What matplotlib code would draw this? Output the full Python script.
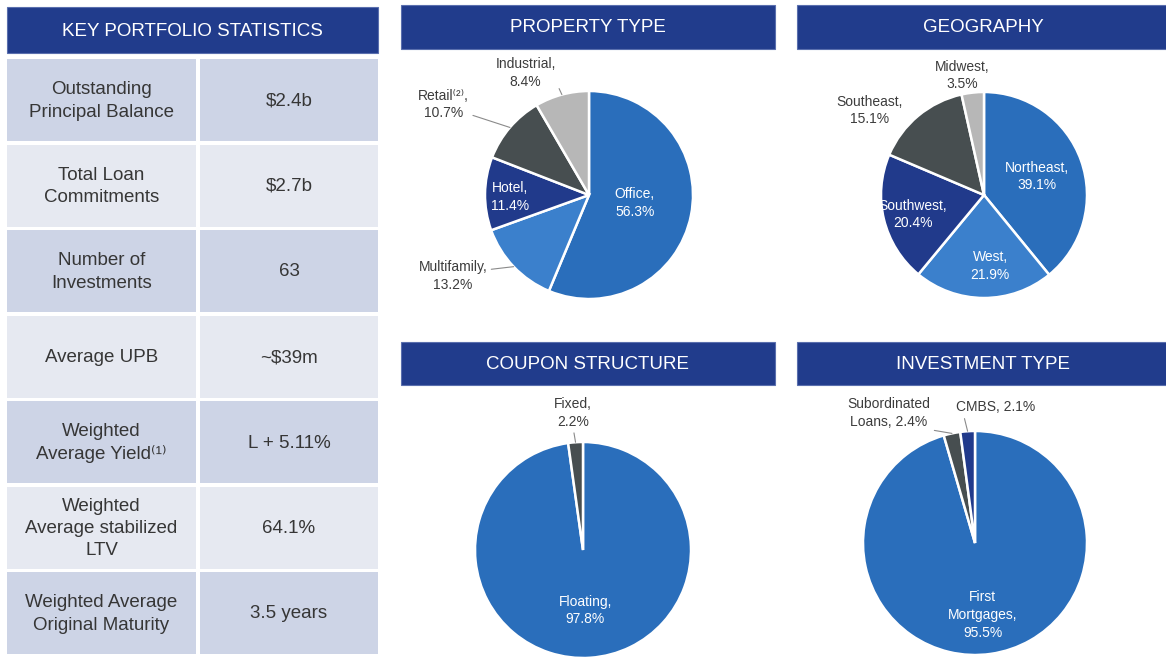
import numpy as np
import matplotlib
matplotlib.use("Agg")
from matplotlib import pyplot as plt
from matplotlib.patches import Rectangle

plt.rcParams['font.family'] = ['Liberation Sans', 'DejaVu Sans']

# key portfolio statistics table
table_title = "KEY PORTFOLIO STATISTICS"
stat_names = ["Outstanding\nPrincipal Balance", "Total Loan\nCommitments", "Number of\nInvestments",
              "Average UPB", "Weighted\nAverage Yield\u207d\u00b9\u207e",
              "Weighted\nAverage stabilized\nLTV", "Weighted Average\nOriginal Maturity"]
stat_values = ["$2.4b", "$2.7b", "63", "~$39m", "L + 5.11%", "64.1%", "3.5 years"]

# pie data (clockwise from 12 o'clock)
prop_title = "PROPERTY TYPE"
prop_names = ["Office", "Multifamily", "Hotel", "Retail\u207d\u00b2\u207e", "Industrial"]
prop_values = [56.3, 13.2, 11.4, 10.7, 8.4]

geo_title = "GEOGRAPHY"
geo_names = ["Northeast", "West", "Southwest", "Southeast", "Midwest"]
geo_values = [39.1, 21.9, 20.4, 15.1, 3.5]

coupon_title = "COUPON STRUCTURE"
coupon_names = ["Floating", "Fixed"]
coupon_values = [97.8, 2.2]

invest_title = "INVESTMENT TYPE"
invest_names = ["First\nMortgages", "Subordinated\nLoans", "CMBS"]
invest_values = [95.5, 2.4, 2.1]

# colours
NAVY_HDR = "#213c8c"
MID = "#2a6ebb"
LIGHT = "#3b80cc"
NAVY = "#213a8b"
DGRAY = "#474e50"
LGRAY = "#b7b7b7"
ROW_DARK = "#cdd4e6"
ROW_LIGHT = "#e6e9f1"
TXT = "#363636"

W, H = 1166, 658
fig = plt.figure(figsize=(W / 100, H / 100), dpi=100)
fig.patch.set_facecolor("white")

# background axes in pixel units for the table and the headers
bg = fig.add_axes([0, 0, 1, 1])
bg.set_xlim(0, W)
bg.set_ylim(H, 0)
bg.axis("off")


def header(x0, x1, y0, y1, text):
    bg.add_patch(Rectangle((x0, y0), x1 - x0, y1 - y0, facecolor=NAVY_HDR, edgecolor="#5a6fae", lw=0.8))
    bg.text((x0 + x1) / 2, (y0 + y1) / 2 + 1, text, color="white", fontsize=13.5,
            ha="center", va="center")


# table
header(7, 378, 7, 53, table_title)
row_top, row_h, pitch = 59, 82, 85.5
for i in range(len(stat_names)):
    y0 = row_top + i * pitch
    c = ROW_DARK if i % 2 == 0 else ROW_LIGHT
    bg.add_patch(Rectangle((7, y0), 189, row_h, facecolor=c, edgecolor="none"))
    bg.add_patch(Rectangle((200, y0), 178, row_h, facecolor=c, edgecolor="none"))
    bg.text(101.5, y0 + row_h / 2 + 1, stat_names[i], ha="center", va="center",
            fontsize=13.5, color=TXT, linespacing=1.42)
    bg.text(289, y0 + row_h / 2 + 1, stat_values[i], ha="center", va="center",
            fontsize=13.5, color=TXT)

# pie headers
header(401, 775, 5, 49, prop_title)
header(797, 1170, 5, 49, geo_title)
header(401, 775, 342, 385, coupon_title)
header(797, 1170, 342, 385, invest_title)


def draw_pie(cx, cy, r, values, names, seps, colors, pos, rel, half=175):
    ax = fig.add_axes([(cx - half) / W, 1 - (cy + half) / H, 2 * half / W, 2 * half / H])
    wedges, _ = ax.pie(values, colors=colors, startangle=90, counterclock=False, radius=1,
                       wedgeprops=dict(edgecolor="white", linewidth=1.8))
    lim = half / r
    ax.set_xlim(-lim, lim)
    ax.set_ylim(-lim, lim)
    ax.axis("off")
    for w, name, sep, v, p, rp in zip(wedges, names, seps, values, pos, rel):
        label = f"{name},{sep}{v}%"
        inside = np.hypot(*p) < 1
        col = "white" if inside else "#3c3c3c"
        mid = np.deg2rad((w.theta1 + w.theta2) / 2)
        if rp is None:
            ax.text(p[0], p[1], label, ha="center", va="center", fontsize=10,
                    color=col, linespacing=1.35)
        else:
            ax.annotate(label, xy=(np.cos(mid), np.sin(mid)), xytext=p, ha="center", va="center",
                        fontsize=10, color=col, linespacing=1.35,
                        arrowprops=dict(arrowstyle="-", color="#8a8a8a", lw=0.8,
                                        relpos=rp, shrinkA=1, shrinkB=0))
    return ax


draw_pie(589, 195, 104, prop_values, prop_names, ["\n"] * 5,
         [MID, LIGHT, NAVY, DGRAY, LGRAY],
         [(0.44, -0.08), (-1.31, -0.78), (-0.76, -0.02), (-1.40, 0.87), (-0.61, 1.17)],
         [None, (1.0, 0.7), None, (1.0, 0.2), (1.0, 0.25)])

draw_pie(984, 195, 103, geo_values, geo_names, ["\n"] * 5,
         [MID, LIGHT, NAVY, DGRAY, LGRAY],
         [(0.51, 0.18), (0.06, -0.69), (-0.69, -0.19), (-1.11, 0.82), (-0.21, 1.16)],
         [None] * 5)

draw_pie(583, 550, 108, coupon_values, coupon_names, ["\n", "\n"],
         [MID, DGRAY],
         [(0.02, -0.56), (-0.09, 1.27)],
         [None, (0.5, 0.0)])

draw_pie(975, 543, 112, invest_values, invest_names, ["\n", " ", " "],
         [MID, DGRAY, NAVY],
         [(0.07, -0.64), (-0.77, 1.16), (0.18, 1.21)],
         [None, (0.95, 0.0), (0.1, 0.0)])

fig.savefig("out.png", dpi=100)
